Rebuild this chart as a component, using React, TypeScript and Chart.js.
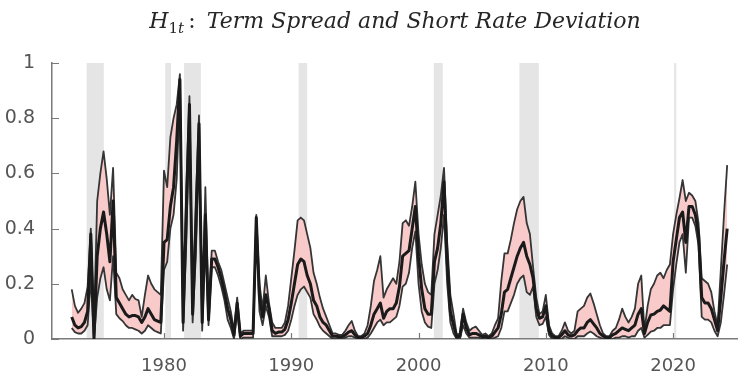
import React, { useEffect, useRef } from 'react';
import { Chart, registerables } from 'chart.js';

Chart.register(...registerables);

// Quarterly observations starting 1972Q4
const START_YEAR = 1972.75;
const STEP_YEARS = 0.25;

const upper = [
  0.18,
  0.12, 0.095, 0.11, 0.13,
  0.19, 0.40, 0.05, 0.50,
  0.60, 0.68, 0.58, 0.45,
  0.62, 0.24, 0.22, 0.18,
  0.16, 0.14, 0.16, 0.145,
  0.14, 0.08, 0.16, 0.23,
  0.20, 0.18, 0.17, 0.16,
  0.61, 0.55, 0.73, 0.80,
  0.85, 0.96, 0.10, 0.55,
  0.88, 0.12, 0.50, 0.81,
  0.08, 0.55, 0.10, 0.32,
  0.32, 0.28, 0.25, 0.20,
  0.15, 0.10, 0.03, 0.15,
  0.02, 0.03, 0.03, 0.03,
  0.03, 0.45, 0.20, 0.11,
  0.23, 0.13, 0.06, 0.04,
  0.04, 0.04, 0.06, 0.12,
  0.22, 0.32, 0.43, 0.44,
  0.43, 0.38, 0.33, 0.24,
  0.20, 0.15, 0.11, 0.08,
  0.05, 0.02, 0.02, 0.015,
  0.015, 0.03, 0.05, 0.065,
  0.03, 0.01, 0.01, 0.02,
  0.05, 0.12, 0.21, 0.25,
  0.30, 0.15, 0.18, 0.20,
  0.22, 0.20, 0.28, 0.42,
  0.43, 0.41, 0.48, 0.57,
  0.38, 0.27, 0.20, 0.17,
  0.16, 0.38, 0.45, 0.52,
  0.62, 0.35, 0.16, 0.09,
  0.015, 0.02, 0.11, 0.06,
  0.03, 0.04, 0.045, 0.03,
  0.015, 0.02, 0.01, 0.02,
  0.05, 0.075, 0.21, 0.31,
  0.31, 0.36, 0.42, 0.47,
  0.50, 0.515, 0.42, 0.38,
  0.26, 0.15, 0.09, 0.10,
  0.16, 0.05, 0.02, 0.01,
  0.01, 0.03, 0.06, 0.03,
  0.02, 0.03, 0.10, 0.11,
  0.12, 0.15, 0.165, 0.13,
  0.09, 0.05, 0.02, 0.01,
  0.01, 0.03, 0.04, 0.07,
  0.11, 0.08, 0.06, 0.08,
  0.11, 0.20, 0.23, 0.03,
  0.12, 0.18, 0.20, 0.23,
  0.24, 0.22, 0.25, 0.27,
  0.38, 0.45, 0.51, 0.576,
  0.50, 0.53, 0.52, 0.50,
  0.42, 0.22, 0.21, 0.20,
  0.17, 0.10, 0.05, 0.25,
  0.45, 0.63,
];

const median = [
  0.08,
  0.05, 0.04, 0.045, 0.06,
  0.10, 0.38, 0.0, 0.30,
  0.40, 0.46, 0.38, 0.28,
  0.50, 0.15, 0.13, 0.11,
  0.09, 0.08, 0.085, 0.085,
  0.08, 0.06, 0.08, 0.11,
  0.09, 0.07, 0.065, 0.06,
  0.35, 0.36, 0.48, 0.55,
  0.72, 0.94, 0.06, 0.45,
  0.85, 0.09, 0.40, 0.78,
  0.06, 0.45, 0.07, 0.29,
  0.29, 0.26, 0.22, 0.17,
  0.11, 0.07, 0.015, 0.13,
  0.01, 0.02, 0.02, 0.02,
  0.02, 0.44, 0.15, 0.08,
  0.16, 0.11, 0.03, 0.02,
  0.025, 0.025, 0.035, 0.07,
  0.13, 0.20, 0.27, 0.29,
  0.28, 0.23, 0.20, 0.14,
  0.12, 0.08, 0.06, 0.05,
  0.03, 0.01, 0.01, 0.008,
  0.008, 0.015, 0.025, 0.03,
  0.015, 0.005, 0.005, 0.01,
  0.02, 0.05, 0.09, 0.11,
  0.13, 0.075, 0.10, 0.11,
  0.11, 0.13, 0.19, 0.30,
  0.31, 0.32, 0.40, 0.48,
  0.30, 0.18, 0.11, 0.09,
  0.09, 0.28, 0.33, 0.42,
  0.57, 0.28, 0.10, 0.05,
  0.008, 0.01, 0.09, 0.04,
  0.015, 0.02, 0.02, 0.015,
  0.008, 0.01, 0.005, 0.01,
  0.025, 0.04, 0.09, 0.17,
  0.18, 0.22, 0.26, 0.30,
  0.33, 0.35, 0.30, 0.27,
  0.22, 0.11, 0.075, 0.08,
  0.12, 0.03, 0.01, 0.005,
  0.005, 0.015, 0.03, 0.015,
  0.01, 0.015, 0.03, 0.04,
  0.04, 0.06, 0.07, 0.055,
  0.04, 0.02, 0.01, 0.005,
  0.005, 0.015, 0.02, 0.03,
  0.04, 0.035, 0.03, 0.04,
  0.05, 0.09, 0.11, 0.02,
  0.06, 0.087, 0.09, 0.10,
  0.105, 0.12, 0.11, 0.10,
  0.28, 0.36, 0.44, 0.46,
  0.35, 0.48, 0.48, 0.45,
  0.38, 0.15, 0.13, 0.13,
  0.11, 0.07, 0.03, 0.15,
  0.28, 0.40,
];

const lower = [
  0.04,
  0.025, 0.02, 0.02, 0.03,
  0.05, 0.22, 0.0, 0.15,
  0.22, 0.26, 0.18, 0.14,
  0.30, 0.09, 0.075, 0.065,
  0.05, 0.04, 0.04, 0.035,
  0.03, 0.02, 0.03, 0.05,
  0.04, 0.03, 0.025, 0.02,
  0.25, 0.28, 0.40, 0.45,
  0.58, 0.90, 0.03, 0.35,
  0.80, 0.06, 0.30, 0.72,
  0.03, 0.35, 0.05, 0.26,
  0.26, 0.23, 0.19, 0.14,
  0.07, 0.04, 0.0, 0.10,
  0.0, 0.005, 0.005, 0.005,
  0.005, 0.42, 0.10, 0.05,
  0.12, 0.08, 0.01, 0.01,
  0.01, 0.01, 0.015, 0.03,
  0.07, 0.12, 0.16, 0.18,
  0.19, 0.17, 0.15, 0.09,
  0.07, 0.045, 0.03, 0.02,
  0.01, 0.0, 0.0, 0.0,
  0.0, 0.005, 0.01, 0.01,
  0.005, 0.0, 0.0, 0.0,
  0.005, 0.02, 0.04, 0.06,
  0.07, 0.05, 0.06, 0.06,
  0.07, 0.08, 0.12, 0.19,
  0.20, 0.24, 0.33, 0.39,
  0.20, 0.10, 0.06, 0.045,
  0.04, 0.20, 0.25, 0.33,
  0.45, 0.20, 0.06, 0.02,
  0.0, 0.0, 0.05, 0.02,
  0.005, 0.005, 0.005, 0.005,
  0.0, 0.0, 0.0, 0.0,
  0.005, 0.01, 0.04, 0.10,
  0.10, 0.13, 0.16, 0.20,
  0.22, 0.23, 0.17, 0.16,
  0.19, 0.08, 0.05, 0.055,
  0.08, 0.015, 0.0, 0.0,
  0.0, 0.0, 0.01, 0.005,
  0.0, 0.0, 0.01, 0.01,
  0.01, 0.02, 0.027, 0.02,
  0.01, 0.005, 0.0, 0.0,
  0.0, 0.0, 0.005, 0.005,
  0.01, 0.01, 0.005, 0.01,
  0.01, 0.03, 0.04, 0.005,
  0.015, 0.027, 0.03, 0.04,
  0.04, 0.05, 0.05, 0.05,
  0.18, 0.27, 0.35, 0.38,
  0.24, 0.44, 0.44, 0.41,
  0.34, 0.08, 0.07, 0.07,
  0.06, 0.03, 0.01, 0.06,
  0.16, 0.27,
];

// NBER recession periods (start, end) in fractional years
const recessionStarts = [1973.92, 1980.1, 1981.58, 1990.58, 2001.2, 2007.92, 2020.08];
const recessionEnds = [1975.27, 1980.55, 1982.9, 1991.25, 2001.9, 2009.45, 2020.25];

const xTickValues = [1980, 1990, 2000, 2010, 2020];
const yTickValues = [0, 0.2, 0.4, 0.6, 0.8, 1];

const X_MIN = 1971.2;
const X_MAX = 2025.1;

const AXIS_COLOR = '#7a7a7a';
const LABEL_COLOR = '#555555';
const BAND_FILL = 'rgb(248, 202, 202)';
const BAND_LINE = '#353535';
const MEDIAN_LINE = '#1a1a1a';
const SHADE = 'rgb(229, 229, 229)';

const dates = upper.map((_, i) => START_YEAR + STEP_YEARS * i);
const toPoints = (vals: number[]) => vals.map((v, i) => ({ x: dates[i], y: v }));

const recessionPlugin = {
  id: 'recessions',
  beforeDraw(chart: any) {
    const { ctx, chartArea, scales } = chart;
    const xs = scales.x;
    ctx.save();
    ctx.fillStyle = SHADE;
    for (let i = 0; i < recessionStarts.length; i++) {
      const a = xs.getPixelForValue(recessionStarts[i]);
      const b = xs.getPixelForValue(recessionEnds[i]);
      ctx.fillRect(a, chartArea.top, Math.max(1.5, b - a), chartArea.bottom - chartArea.top);
    }
    ctx.restore();
  },
};

const ticksAndTitlePlugin = {
  id: 'ticksAndTitle',
  afterDraw(chart: any) {
    const { ctx, chartArea, scales } = chart;
    ctx.save();
    // inward tick marks
    ctx.strokeStyle = AXIS_COLOR;
    ctx.lineWidth = 1.2;
    ctx.beginPath();
    for (const v of yTickValues) {
      const y = Math.round(scales.y.getPixelForValue(v)) + 0.5;
      ctx.moveTo(chartArea.left, y);
      ctx.lineTo(chartArea.left + 7, y);
    }
    for (const v of xTickValues) {
      const x = Math.round(scales.x.getPixelForValue(v)) + 0.5;
      ctx.moveTo(x, chartArea.bottom);
      ctx.lineTo(x, chartArea.bottom - 6);
    }
    ctx.stroke();

    // title with math-style subscript
    const fam = '"DejaVu Serif", serif';
    const parts = [
      { text: 'H', font: `italic 22px ${fam}`, dy: 0 },
      { text: '1', font: `15px ${fam}`, dy: 5 },
      { text: 't', font: `italic 15px ${fam}`, dy: 5 },
      { text: '\u2009:\u2002', font: `22px ${fam}`, dy: 0 },
      { text: 'Term Spread and Short Rate Deviation', font: `italic 22px ${fam}`, dy: 0 },
    ];
    let total = 0;
    const widths: number[] = [];
    for (const p of parts) {
      ctx.font = p.font;
      const w = ctx.measureText(p.text).width;
      widths.push(w);
      total += w;
    }
    const cx = (chartArea.left + chartArea.right) / 2;
    let x = cx - total / 2;
    const baseY = 28;
    ctx.fillStyle = '#262626';
    ctx.textBaseline = 'alphabetic';
    ctx.textAlign = 'left';
    parts.forEach((p, i) => {
      ctx.font = p.font;
      ctx.fillText(p.text, x, baseY + p.dy);
      x += widths[i];
    });
    ctx.restore();
  },
};

export default function App() {
  const canvasRef = useRef<HTMLCanvasElement | null>(null);

  useEffect(() => {
    document.body.style.margin = '0';
    const canvas = canvasRef.current;
    if (!canvas) return;
    const chart = new Chart(canvas, {
      type: 'line',
      data: {
        datasets: [
          {
            label: 'Median',
            data: toPoints(median),
            borderColor: MEDIAN_LINE,
            borderWidth: 3,
            pointRadius: 0,
            fill: false,
            tension: 0,
            order: 0,
            borderJoinStyle: 'round',
          },
          {
            label: 'Lower',
            data: toPoints(lower),
            borderColor: BAND_LINE,
            borderWidth: 1.8,
            pointRadius: 0,
            fill: false,
            tension: 0,
            order: 1,
            borderJoinStyle: 'round',
          },
          {
            label: 'Upper',
            data: toPoints(upper),
            borderColor: BAND_LINE,
            borderWidth: 1.8,
            pointRadius: 0,
            backgroundColor: BAND_FILL,
            fill: 1,
            tension: 0,
            order: 2,
            borderJoinStyle: 'round',
          },
        ],
      },
      options: {
        responsive: false,
        animation: false,
        devicePixelRatio: 1,
        layout: { padding: { top: 63, right: 0, left: 0, bottom: 0 } },
        plugins: {
          legend: { display: false },
          tooltip: { enabled: false },
          title: { display: false },
        },
        scales: {
          x: {
            type: 'linear',
            min: X_MIN,
            max: X_MAX,
            grid: { display: false },
            border: { display: true, color: AXIS_COLOR, width: 1.5 },
            afterBuildTicks: (s: any) => {
              s.ticks = xTickValues.map((v) => ({ value: v }));
            },
            afterFit: (s: any) => {
              s.height = 38;
            },
            ticks: {
              color: LABEL_COLOR,
              font: { family: '"DejaVu Sans", sans-serif', size: 18 },
              padding: 9,
              maxRotation: 0,
              autoSkip: false,
              callback: (v: any) => String(v),
            },
          },
          y: {
            type: 'linear',
            min: 0,
            max: 1,
            grid: { display: false },
            border: { display: true, color: AXIS_COLOR, width: 1.5 },
            afterBuildTicks: (s: any) => {
              s.ticks = yTickValues.map((v) => ({ value: v }));
            },
            afterFit: (s: any) => {
              s.width = 52;
            },
            ticks: {
              color: LABEL_COLOR,
              font: { family: '"DejaVu Sans", sans-serif', size: 19 },
              padding: 9,
              autoSkip: false,
              callback: (v: any) => String(Math.round(Number(v) * 10) / 10),
            },
          },
        },
      },
      plugins: [recessionPlugin, ticksAndTitlePlugin],
    });
    return () => chart.destroy();
  }, []);

  return (
    <div style={{ width: 738, height: 377, position: 'relative', background: '#fff' }}>
      <canvas ref={canvasRef} width={738} height={377} />
    </div>
  );
}
